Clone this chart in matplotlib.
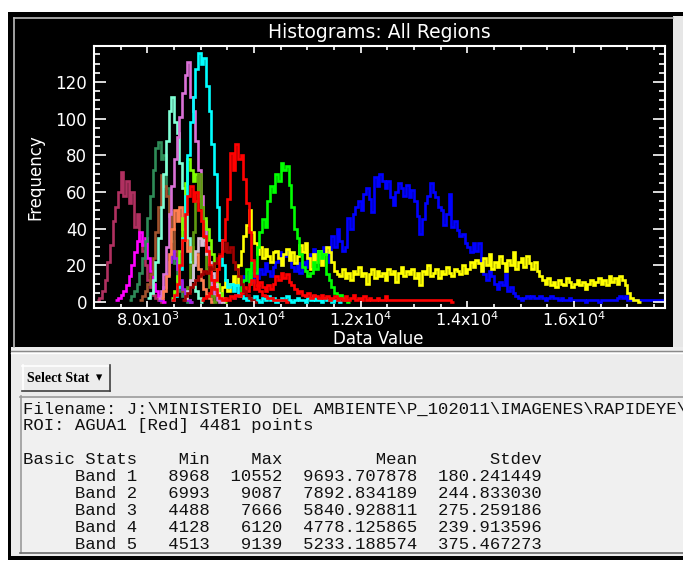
import numpy as np
import matplotlib
matplotlib.use("Agg")
import matplotlib.pyplot as plt
from matplotlib.patches import Rectangle
from matplotlib.lines import Line2D
from matplotlib.ticker import MultipleLocator, FuncFormatter

W, H = 683, 563
BIN_WIDTH = 50

# ---- ROI histograms (first bin value, counts per bin) ----
maroon_start = 7050
maroon_counts = [1, 2, 6, 12, 22, 31, 44, 52, 60, 71, 58, 66, 54, 60, 41, 48, 33, 28,
                 20, 12, 8, 4, 2, 1, 0]

magenta_start = 7400
magenta_counts = [1, 2, 4, 6, 9, 14, 20, 27, 33, 38, 31, 35, 24, 17, 10, 6, 3, 1, 0]

seagreen_start = 7650
seagreen_counts = [1, 3, 6, 10, 16, 24, 33, 46, 58, 72, 84, 87, 78, 80, 62, 49, 33, 21,
                   12, 6, 3, 1, 0]

sienna_start = 7850
sienna_counts = [1, 3, 6, 10, 15, 24, 38, 52, 69, 63, 58, 47, 40, 28, 19, 11, 6, 3, 1, 0]

purple_start = 8200
purple_counts = [1, 3, 8, 15, 22, 28, 24, 18, 12, 7, 3, 1, 0]

aquamarine_start = 8000
aquamarine_counts = [2, 5, 12, 22, 35, 52, 70, 88, 104, 112, 98, 92, 76, 62, 48, 35, 22,
                     12, 6, 2, 0]

orchid_start = 8200
orchid_counts = [2, 6, 15, 30, 48, 63, 78, 90, 101, 114, 124, 131, 112, 104, 88, 72, 58,
                 44, 30, 18, 9, 4, 1, 0]

coral_start = 8250
coral_counts = [2, 6, 14, 26, 40, 50, 44, 52, 40, 34, 28, 30, 22, 26, 18, 12, 7, 4, 2, 0]

chartreuse_start = 8450
chartreuse_counts = [2, 6, 14, 28, 46, 65, 78, 72, 66, 70, 58, 52, 46, 40, 34, 26, 18,
                     10, 5, 2, 0]

olive_start = 8700
olive_counts = [2, 8, 20, 38, 55, 70, 52, 34, 18, 8, 3, 0]

thistle_start = 8700
thistle_counts = [2, 6, 12, 20, 28, 35, 31, 34, 26, 22, 16, 10, 5, 2, 0]

cyan_start = 8450
cyan_counts = [1, 3, 8, 18, 35, 58, 80, 98, 112, 127, 136, 130, 133, 118, 104, 86, 70, 52,
               34, 20, 12, 8, 10, 6, 9, 4, 3, 2, 1, 2, 1, 3, 1, 0, 2, 1, 3, 1, 2, 0, 1, 2,
               1, 3, 1, 0, 1, 2, 1, 1, 0, 2, 1, 3, 1, 1, 0, 2, 1, 1, 0, 1, 1, 0]

red2_start = 8450
red2_counts = [1, 4, 10, 20, 34, 48, 58, 63, 55, 60, 50, 44, 36, 28, 20, 12, 7, 4, 2,
               1, 2, 1, 3, 2, 4, 3,
               5, 8, 6, 10, 12, 7, 9, 11, 8, 6, 9, 7,
               10, 14, 12, 16, 13, 15, 11, 9, 7, 5, 6, 4,
               3, 5, 2, 4, 3, 2, 4, 2, 3, 1, 2, 3,
               1, 2, 1, 3, 1, 2, 4, 1, 2, 1, 3, 1, 2, 1, 1, 2, 1, 1, 3, 1,
               1, 1, 1, 1, 1, 1, 1, 1, 1, 1, 1, 1, 1, 1, 1, 1, 1, 1, 1, 1, 1, 1, 1, 0]

darkred_start = 8650
darkred_counts = [1, 3, 5, 8, 10, 12, 14, 15, 17, 16, 19, 18, 21, 24, 26, 28, 32, 27, 30,
                  22, 18, 14, 10, 6, 4, 2, 1, 0]

agua1_start = 9000
agua1_counts = [1, 2, 3, 5, 8, 12, 18, 25, 34, 45, 56, 81, 72, 86, 78, 80, 67, 54, 38,
                23, 14, 9, 6, 4, 3, 2, 2, 1, 1, 1, 1, 1, 0]

green_start = 9700
green_counts = [3, 8, 12, 18, 10, 22, 16, 30, 38, 45, 41, 55, 63, 60, 70, 66, 76, 72, 74,
                64, 52, 40, 35, 26, 19, 17, 14, 16, 22, 18, 28, 24, 26, 15, 12, 8, 5, 3,
                4, 2, 1, 0]

yellow_start = 9350
yellow_counts = [3, 8, 12, 6, 10, 14, 9,
                 20, 28, 36, 42, 50, 38, 32, 26, 30, 24, 29, 25, 22, 27, 28, 24, 20, 26,
                 29, 23, 27, 21, 25, 31, 27, 32, 24, 18, 26, 22, 28, 20, 26, 30, 27, 22,
                 17, 15, 14, 18, 13, 16, 12, 17, 15, 19, 14, 16, 10, 15, 18, 13, 17, 14,
                 16, 12, 18, 15, 17, 11, 16, 19, 14, 17, 15, 18, 13, 16, 9, 17, 15, 20,
                 14, 16, 18, 13, 17, 15, 19, 16, 14, 18, 17, 15, 20, 16, 18, 22,
                 19, 23, 21, 17, 24, 20, 26, 18, 22, 19, 25, 21, 17, 23,
                 20, 27, 18, 22, 24, 19, 25, 21, 18, 22, 17,
                 14, 12, 10, 13, 9, 11, 8, 12, 10, 9, 13, 11, 8, 10, 12, 9, 11, 7, 10,
                 12, 9, 11, 13, 10, 12, 9, 14,
                 11, 13, 10, 14, 12, 9, 5, 2, 1, 1, 0]

blue_start = 9600
blue_counts = [2, 4, 6,
               10, 14, 12, 16, 11, 15, 13,
               18, 15, 21, 17, 14, 19,
               22, 27, 20, 25, 28, 23, 19,
               17, 21, 16, 22, 19, 24,
               26, 29, 24, 28, 25, 30, 27,
               22, 36, 30, 40, 33, 28,
               30, 46, 40, 48, 52, 55, 50, 59, 62, 56,
               49, 68, 63, 70, 66, 62, 66, 57, 53, 60, 65,
               62, 58, 64, 57, 61, 55, 47, 37, 45, 54,
               58, 65, 60, 57, 52, 50, 42, 48, 59, 41,
               44, 39, 36, 37, 32, 30, 27, 32, 28, 32, 22,
               15, 12, 17, 14, 10, 7, 11, 9, 15, 6, 8,
               5, 3, 2, 1,
               2, 3, 2, 3, 2, 2, 3, 2, 1, 2, 3, 2, 2, 1, 2, 1, 1, 2, 1,
               1, 1, 1, 1, 0, 1, 1, 1, 1, 0, 1, 1, 1, 1, 1, 1,
               2, 3, 2, 3, 1,
               1, 1, 1, 1, 1, 1, 1, 1, 1, 1, 1, 1, 1]

# drawing order (later drawn on top)
series = [
    (blue_start, blue_counts, "#0000ff"),
    (yellow_start, yellow_counts, "#ffff00"),
    (green_start, green_counts, "#00ff00"),
    (maroon_start, maroon_counts, "#b03060"),
    (magenta_start, magenta_counts, "#ff00ff"),
    (seagreen_start, seagreen_counts, "#2e8b57"),
    (sienna_start, sienna_counts, "#a0522d"),
    (purple_start, purple_counts, "#a020f0"),
    (aquamarine_start, aquamarine_counts, "#7fffd4"),
    (orchid_start, orchid_counts, "#da70d6"),
    (coral_start, coral_counts, "#ff7f50"),
    (chartreuse_start, chartreuse_counts, "#7fff00"),
    (olive_start, olive_counts, "#5f9a10"),
    (thistle_start, thistle_counts, "#d8bfd8"),
    (cyan_start, cyan_counts, "#00ffff"),
    (red2_start, red2_counts, "#ff0000"),
    (darkred_start, darkred_counts, "#a00000"),
    (agua1_start, agua1_counts, "#ff0000"),
]

x_range = (7000, 17706)
y_range = (-3.3, 139.6)

# ---- statistics report ----
stat_file = "Filename: J:\\MINISTERIO DEL AMBIENTE\\P_102011\\IMAGENES\\RAPIDEYE\\"
stat_roi = "ROI: AGUA1 [Red] 4481 points"
stat_header = ["Basic Stats", "Min", "Max", "Mean", "Stdev"]
band_names = ["Band 1", "Band 2", "Band 3", "Band 4", "Band 5"]
band_min = [8968, 6993, 4488, 4128, 4513]
band_max = [10552, 9087, 7666, 6120, 9139]
band_mean = [9693.707878, 7892.834189, 5840.928811, 4778.125865, 5233.188574]
band_std = [180.241449, 244.833030, 275.259186, 239.913596, 375.467273]


def fx(px):
    return px / W


def fy(py):
    return 1 - py / H


def rect(fig, x0, y0, x1, y1, color, z=0):
    fig.patches.append(Rectangle((fx(x0), fy(y1)), (x1 - x0) / W, (y1 - y0) / H,
                                 transform=fig.transFigure, facecolor=color,
                                 edgecolor="none", zorder=z))


def hline(fig, x0, x1, y, color, lw=1.0, z=2):
    fig.lines.append(Line2D([fx(x0), fx(x1)], [fy(y), fy(y)], transform=fig.transFigure,
                            color=color, lw=lw, zorder=z))


def vline(fig, x, y0, y1, color, lw=1.0, z=2):
    fig.lines.append(Line2D([fx(x), fx(x)], [fy(y0), fy(y1)], transform=fig.transFigure,
                            color=color, lw=lw, zorder=z))


fig = plt.figure(figsize=(W / 100, H / 100), dpi=100, facecolor="white")

# window frame
rect(fig, 8, 12, 683, 560, "#000000", 0)
rect(fig, 11, 347, 683, 556, "#ececec", 1)
rect(fig, 673, 16, 683, 347, "#e6e6e6", 1)
vline(fig, 13.5, 18, 347, "#bdbdbd", 1.2)
hline(fig, 13.5, 673, 18, "#bdbdbd", 1.2)
hline(fig, 11, 683, 351, "#8a8a8a", 1.0)
hline(fig, 11, 683, 352.5, "#ffffff", 1.0)

# plot axes
ax = fig.add_axes([fx(94), fy(308), (665 - 94) / W, (308 - 46) / H])
ax.set_zorder(10)
ax.set_facecolor("black")
for start, counts, color in series:
    counts = np.asarray(counts, dtype=float)
    edges = start + BIN_WIDTH * np.arange(len(counts) + 1)
    ax.stairs(counts, edges, baseline=None, color=color, lw=1.9)

ax.set_xlim(*x_range)
ax.set_ylim(*y_range)
ax.xaxis.set_major_locator(MultipleLocator(2000))
ax.xaxis.set_minor_locator(MultipleLocator(500))
ax.yaxis.set_major_locator(MultipleLocator(20))
ax.yaxis.set_minor_locator(MultipleLocator(5))


def sci_label(v, pos):
    exp = int(np.floor(np.log10(v)))
    return r"%.1fx10$^{%d}$" % (v / 10 ** exp, exp)


ax.xaxis.set_major_formatter(FuncFormatter(sci_label))
for sp in ax.spines.values():
    sp.set_color("white")
    sp.set_linewidth(1.5)
ax.tick_params(which="both", direction="in", colors="white", top=True, right=True,
               width=1.2, labelsize=12)
ax.tick_params(axis="x", which="major", length=5, pad=1.5, labelsize=11.5)
ax.tick_params(axis="x", which="minor", length=3)
ax.tick_params(axis="y", which="major", length=8.5, pad=5)
ax.tick_params(axis="y", which="minor", length=4.5)

fig.text(fx(379), fy(33), "Histograms: All Regions", color="white", fontsize=13.5,
         ha="center", va="center")
fig.text(fx(378), fy(338.5), "Data Value", color="white", fontsize=12,
         ha="center", va="center", zorder=11)
fig.text(fx(35), fy(177), "Frequency", color="white", fontsize=12, rotation=90,
         ha="center", va="center")

# Select Stat button
rect(fig, 22, 365, 110, 391, "#ececec", 2)
hline(fig, 22, 110, 365.5, "#ffffff", 1.2, 3)
vline(fig, 22.5, 365, 391, "#ffffff", 1.2, 3)
hline(fig, 22, 110, 390.5, "#404040", 1.2, 3)
vline(fig, 109.5, 365, 391, "#404040", 1.2, 3)
fig.text(fx(58), fy(378), "Select Stat", fontsize=10, weight="bold",
         family=["Liberation Serif", "DejaVu Sans"], ha="center", va="center", zorder=4)
fig.text(fx(99), fy(377.5), "\u25be", fontsize=9, family="DejaVu Sans",
         ha="center", va="center", zorder=4)

# report area
rect(fig, 20, 396, 683, 553, "#f0f0f0", 2)
hline(fig, 20, 683, 396.5, "#9a9a9a", 1.2, 3)
vline(fig, 20.5, 396, 553, "#9a9a9a", 1.2, 3)
hline(fig, 20, 683, 552.5, "#6a6a6a", 1.2, 3)

lines = [stat_file, stat_roi, ""]
lines.append("%-11s%7s%7s%13s%12s" % tuple(stat_header))
for nm, mn, mx, me, sd in zip(band_names, band_min, band_max, band_mean, band_std):
    lines.append("     %s%7d%7d%13.6f%12.6f" % (nm, mn, mx, me, sd))

y0 = 409
for i, s in enumerate(lines):
    fig.text(fx(23), fy(y0 + i * 16.9), s, family="Liberation Mono", fontsize=12.4,
             color="#111111", ha="left", va="center", zorder=4)

fig.savefig("out.png", dpi=100, facecolor="white")
